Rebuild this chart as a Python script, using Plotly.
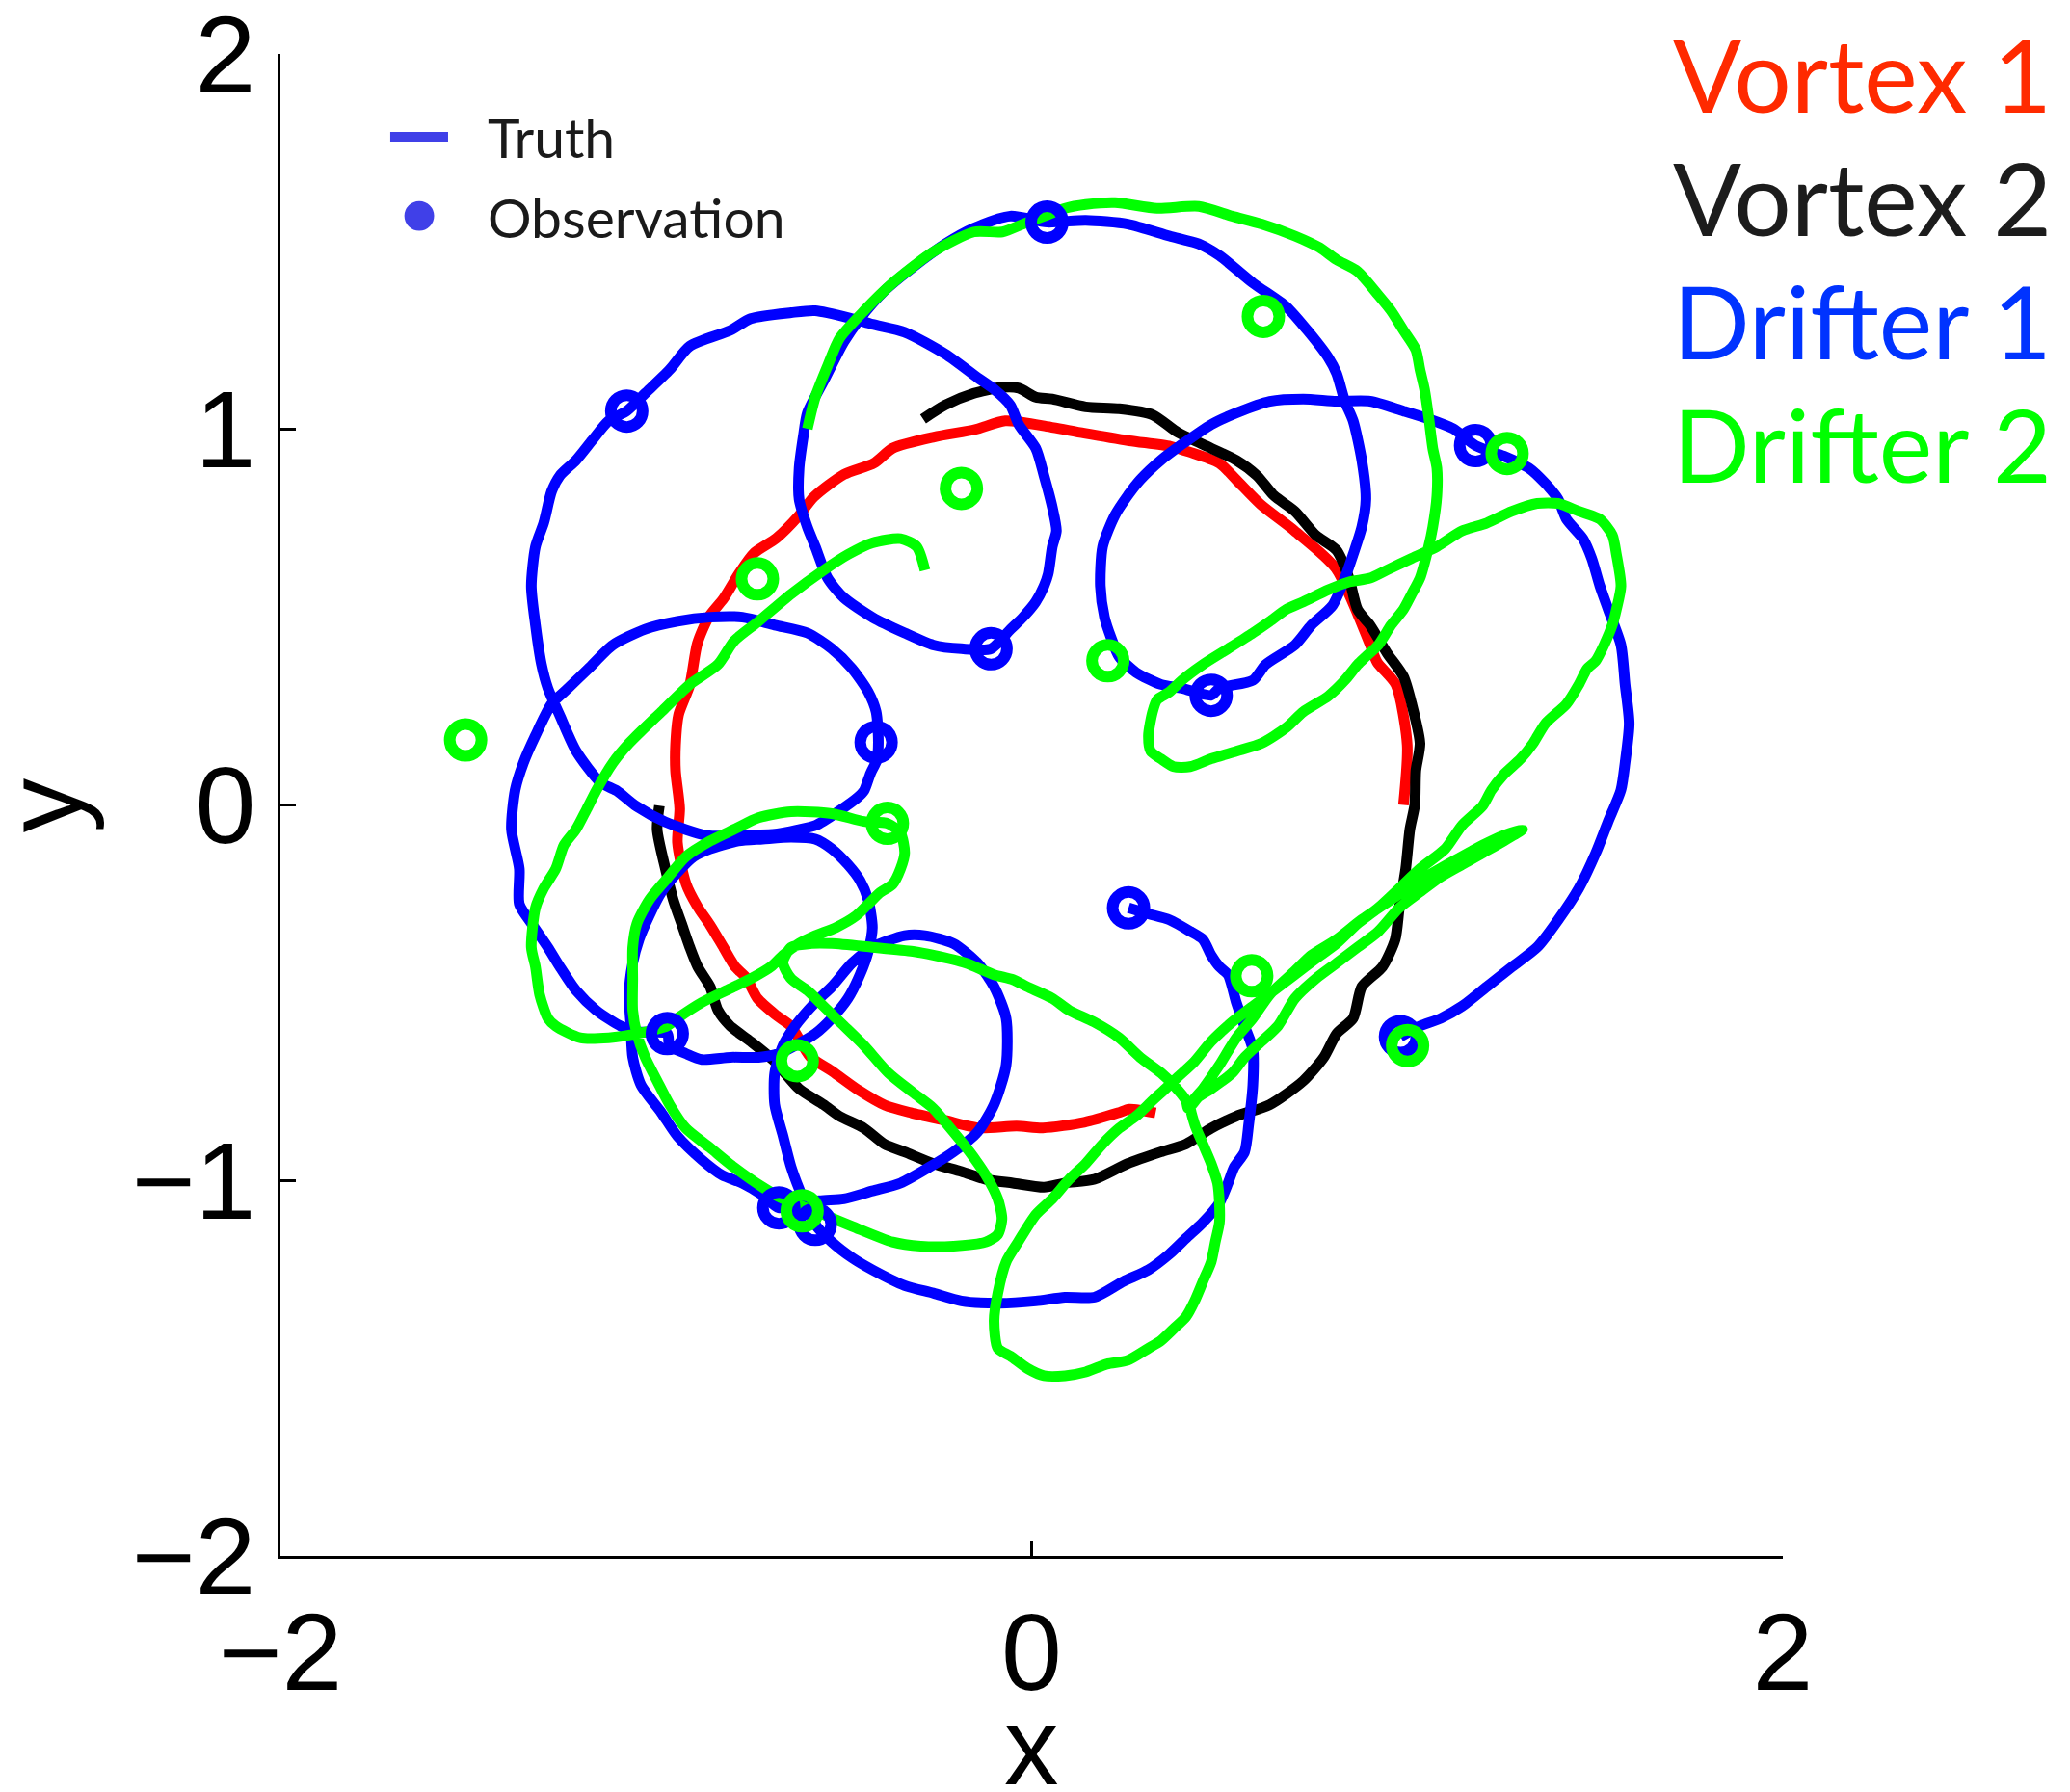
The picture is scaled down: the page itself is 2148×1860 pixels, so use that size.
import plotly.graph_objects as go

# ---- axis ticks ----
x_ticks = [-2, 0, 2]
x_ticklabels = ["\u22122", "0", "2"]
y_ticks = [-2, -1, 0, 1, 2]
y_ticklabels = ["\u22122", "\u22121", "0", "1", "2"]

# ---- Vortex 1 (truth) ----
vortex1_x = [0.99, 1.00, 0.97, 0.92, 0.90, 0.81, 0.70, 0.61, 0.545, 0.50, 0.42, 0.37, 0.26, 0.14, 0.03,
             -0.07, -0.15, -0.26, -0.37, -0.42, -0.50, -0.58, -0.62, -0.68, -0.74, -0.78, -0.82, -0.86,
             -0.89, -0.91, -0.94, -0.948, -0.948, -0.937, -0.943, -0.92, -0.89, -0.856, -0.82, -0.79,
             -0.76, -0.73, -0.68, -0.64, -0.59, -0.53, -0.46, -0.39, -0.32, -0.23, -0.14, -0.04, 0.03,
             0.14, 0.23, 0.26, 0.33]
vortex1_y = [0.00, 0.16, 0.32, 0.38, 0.43, 0.63, 0.73, 0.80, 0.866, 0.91, 0.94, 0.955, 0.97, 0.99, 1.01,
             1.023, 1.00, 0.98, 0.95, 0.91, 0.88, 0.82, 0.77, 0.71, 0.67, 0.615, 0.55, 0.50,
             0.43, 0.32, 0.24, 0.16, 0.09, -0.01, -0.10, -0.21, -0.27, -0.32, -0.38, -0.43,
             -0.46, -0.515, -0.56, -0.59, -0.67, -0.71, -0.76, -0.80, -0.82, -0.84, -0.86, -0.855, -0.86,
             -0.845, -0.82, -0.81, -0.82]

# ---- Vortex 2 (truth) ----
vortex2_x = [-0.289, -0.230, -0.154, -0.079, -0.034, 0.011, 0.055, 0.144, 0.233, 0.322, 0.389, 0.456,
             0.545, 0.600, 0.645, 0.701, 0.756, 0.812, 0.845, 0.868, 0.901, 0.946, 0.990, 1.012, 1.034,
             1.023, 1.020, 1.007, 0.996, 0.979, 0.968, 0.934, 0.879, 0.856, 0.812, 0.778, 0.723, 0.634,
             0.545, 0.478, 0.411, 0.344, 0.256, 0.167, 0.089, 0.033, -0.050, -0.122, -0.187, -0.262,
             -0.338, -0.392, -0.446, -0.511, -0.554, -0.619, -0.684, -0.748, -0.802, -0.835, -0.856,
             -0.889, -0.910, -0.932, -0.954, -0.975, -0.997, -0.991]
vortex2_y = [1.028, 1.065, 1.096, 1.112, 1.110, 1.086, 1.081, 1.060, 1.055, 1.039, 0.992, 0.960,
             0.918, 0.877, 0.824, 0.782, 0.719, 0.678, 0.604, 0.520, 0.479, 0.405, 0.342, 0.269, 0.164,
             0.091, 0.000, -0.065, -0.170, -0.274, -0.358, -0.431, -0.484, -0.568, -0.609, -0.672, -0.735,
             -0.798, -0.829, -0.861, -0.903, -0.924, -0.955, -0.997, -1.007, -1.018, -1.007, -0.997, -0.976,
             -0.955, -0.924, -0.903, -0.861, -0.829, -0.798, -0.756, -0.683, -0.630, -0.589, -0.547, -0.484,
             -0.431, -0.379, -0.316, -0.253, -0.170, -0.065, -0.002]

# ---- Drifter 1 (truth) ----
drifter1_x = [0.258, 0.311, 0.367, 0.423, 0.456, 0.478, 0.500, 0.523, 0.545, 0.567, 0.589, 0.589, 0.578,
              0.567, 0.539, 0.523, 0.500, 0.456, 0.411, 0.367, 0.311, 0.244, 0.167, 0.089, 0.011, -0.085,
              -0.187, -0.262, -0.338, -0.424, -0.478, -0.532, -0.576,
              -0.608, -0.640, -0.662, -0.684, -0.684, -0.662, -0.630, -0.576, -0.532, -0.478, -0.424,
              -0.338, -0.284, -0.208, -0.144, -0.100, -0.068, -0.068, -0.100, -0.144, -0.208, -0.273,
              -0.349, -0.424, -0.500, -0.565, -0.673,
              -0.716, -0.770, -0.824, -0.878, -0.943, -0.986, -1.040, -1.062, -1.067, -1.072, -1.062,
              -1.045, -1.018, -0.986, -0.943, -0.900, -0.856, -0.781, -0.716, -0.640, -0.576, -0.532,
              -0.489, -0.457, -0.435, -0.424, -0.435, -0.457, -0.489, -0.532, -0.576, -0.630, -0.673,
              -0.727, -0.802, -0.878, -0.921, -0.964, -0.970,
              -1.051, -1.094, -1.159, -1.213, -1.256, -1.288, -1.331, -1.364, -1.364, -1.385, -1.375,
              -1.353, -1.321, -1.278, -1.234, -1.180, -1.115, -1.029, -0.943, -0.856, -0.770, -0.684,
              -0.597, -0.532, -0.478, -0.435, -0.414, -0.408,
              -0.412, -0.429, -0.446, -0.463, -0.514, -0.574, -0.626, -0.677, -0.762, -0.865, -0.976,
              -1.053, -1.105,
              -1.148, -1.213, -1.256, -1.288, -1.305, -1.321, -1.332, -1.321, -1.299, -1.278, -1.256,
              -1.213, -1.170, -1.126, -1.078, -1.029, -0.964, -0.910, -0.802, -0.748, -0.640, -0.576,
              -0.478, -0.424, -0.338, -0.230, -0.144, -0.100, -0.057, -0.034, 0.011, 0.033, 0.055, 0.066,
              0.055, 0.044, 0.033, 0.011, -0.023, -0.056, -0.108,
              -0.187, -0.262, -0.338, -0.424, -0.500, -0.543, -0.576, -0.597, -0.619, -0.619, -0.608,
              -0.597, -0.554, -0.500, -0.457, -0.392, -0.316, -0.230, -0.154, -0.057, 0.041,
              0.144, 0.256, 0.367, 0.445, 0.500, 0.589, 0.678, 0.734, 0.790, 0.812, 0.834, 0.856, 0.879,
              0.890, 0.879, 0.856, 0.834, 0.801, 0.745, 0.701, 0.623, 0.589, 0.500, 0.478, 0.400, 0.344,
              0.278, 0.233, 0.211, 0.194, 0.183, 0.189, 0.222, 0.256, 0.289, 0.344, 0.400, 0.478, 0.545,
              0.634, 0.723, 0.812, 0.901, 0.990, 1.057, 1.123, 1.182, 1.257, 1.324, 1.368, 1.402, 1.424,
              1.468, 1.491, 1.513, 1.535, 1.569, 1.580, 1.591, 1.580, 1.569, 1.535, 1.502, 1.457, 1.402,
              1.346, 1.279, 1.212, 1.146, 1.090, 1.034, 0.982]
drifter1_y = [-0.274, -0.290, -0.306, -0.337, -0.358, -0.400, -0.431, -0.452, -0.526, -0.589, -0.651, -0.746,
              -0.850, -0.924, -0.965, -1.007, -1.060, -1.112, -1.154, -1.196, -1.238, -1.269, -1.311, -1.311,
              -1.321, -1.327, -1.321, -1.300, -1.280, -1.238, -1.206, -1.164, -1.117,
              -1.049, -0.965, -0.881, -0.798, -0.714, -0.641, -0.589, -0.526, -0.484, -0.421, -0.379,
              -0.348, -0.348, -0.369, -0.421, -0.484, -0.568, -0.693, -0.798, -0.871, -0.924, -0.965,
              -1.007, -1.028, -1.049, -1.054, -1.073,
              -1.039, -1.007, -0.986, -0.945, -0.882, -0.819, -0.746, -0.672, -0.588, -0.505, -0.421,
              -0.358, -0.295, -0.233, -0.180, -0.138, -0.117, -0.096, -0.091, -0.086, -0.091, -0.117,
              -0.159, -0.201, -0.253, -0.327, -0.390, -0.452, -0.515, -0.568, -0.609, -0.641, -0.662,
              -0.672, -0.672, -0.678, -0.662, -0.641, -0.609,
              -0.604, -0.589, -0.547, -0.494, -0.431, -0.379, -0.316, -0.264, -0.170, -0.065, 0.040,
              0.112, 0.185, 0.269, 0.311, 0.363, 0.426, 0.468, 0.489, 0.500, 0.500, 0.479,
              0.458, 0.416, 0.363, 0.301, 0.248, 0.167,
              0.120, 0.084, 0.038, 0.020, -0.017, -0.054, -0.067, -0.077, -0.081, -0.081, -0.045,
              -0.003, 0.038,
              0.060, 0.144, 0.238, 0.311, 0.374, 0.479, 0.583, 0.688, 0.751, 0.835, 0.877,
              0.918, 0.971, 1.023, 1.049, 1.096, 1.159, 1.222, 1.264, 1.295, 1.311, 1.316,
              1.295, 1.280, 1.259, 1.201, 1.138, 1.107, 1.065, 1.013, 0.950, 0.877, 0.793, 0.730,
              0.688, 0.615, 0.583, 0.541, 0.500, 0.468, 0.416,
              0.416, 0.426, 0.458, 0.500, 0.552, 0.604, 0.688, 0.740, 0.814, 0.897, 0.981,
              1.044, 1.128, 1.233, 1.295, 1.369, 1.432, 1.494, 1.536, 1.568, 1.552,
              1.557, 1.547, 1.515, 1.494, 1.463, 1.390, 1.327, 1.264, 1.191, 1.149, 1.075, 1.023, 0.918,
              0.814, 0.740, 0.667, 0.604, 0.531, 0.479, 0.426, 0.374, 0.332, 0.311, 0.292, 0.311, 0.321,
              0.353, 0.395, 0.447, 0.500, 0.583, 0.688, 0.772, 0.824, 0.866, 0.918, 0.960, 1.013, 1.044,
              1.075, 1.081, 1.075, 1.075, 1.049, 1.028, 1.002, 0.957, 0.929, 0.897, 0.856, 0.814, 0.761,
              0.709, 0.657, 0.583, 0.521, 0.426, 0.321, 0.217, 0.112, 0.040, -0.044, -0.128, -0.222, -0.306,
              -0.379, -0.431, -0.484, -0.536, -0.568, -0.589, -0.617]

# ---- Drifter 2 (truth) ----
drifter2_x = [-0.284, -0.306, -0.349, -0.424, -0.489, -0.554, -0.640, -0.727, -0.792, -0.835, -0.910,
              -0.986, -1.072, -1.115, -1.159, -1.185, -1.213, -1.245, -1.267, -1.299, -1.321, -1.332,
              -1.321, -1.310, -1.288, -1.267, -1.202, -1.126, -1.051, -0.970, -0.943, -0.878, -0.813,
              -0.748, -0.694, -0.662,
              -0.619, -0.576, -0.522, -0.467, -0.435, -0.403, -0.370, -0.349, -0.338, -0.349, -0.384,
              -0.446, -0.532, -0.640, -0.727, -0.792, -0.856, -0.921, -0.975, -1.018, -1.051, -1.062,
              -1.062, -1.062, -1.051, -1.029, -0.997, -0.964, -0.921, -0.856, -0.792, -0.716, -0.662,
              -0.608, -0.554, -0.478, -0.370, -0.295, -0.208, -0.122, -0.090, -0.079, -0.090, -0.122,
              -0.165, -0.208, -0.262, -0.316, -0.381, -0.446, -0.500, -0.554, -0.597, -0.640, -0.662,
              -0.640, -0.586, -0.532, -0.424, -0.316, -0.262, -0.176, -0.100, -0.050, -0.012, 0.055,
              0.100, 0.166, 0.233, 0.289, 0.345, 0.378, 0.411, 0.417,
              0.445, 0.478, 0.534, 0.567, 0.612, 0.656, 0.701, 0.756, 0.812, 0.868, 0.923, 0.979, 1.034,
              1.090, 1.146, 1.201, 1.257, 1.307,
              1.257, 1.201, 1.124, 1.034, 0.956, 0.878, 0.812, 0.745, 0.701, 0.634, 0.589, 0.545, 0.500,
              0.456, 0.423,
              0.434, 0.456, 0.478, 0.495, 0.500, 0.500, 0.489, 0.478, 0.456, 0.434, 0.411, 0.378, 0.345,
              0.311, 0.256, 0.200, 0.144, 0.089, 0.033, -0.012, -0.056, -0.090, -0.100, -0.090, -0.068,
              -0.036, 0.011, 0.055, 0.100, 0.144, 0.189, 0.233, 0.278, 0.322, 0.356, 0.389, 0.434, 0.478,
              0.534, 0.589, 0.645, 0.701, 0.756, 0.812, 0.868, 0.923, 0.979, 1.034, 1.101, 1.146, 1.201,
              1.224, 1.257, 1.302, 1.335, 1.368, 1.424, 1.457, 1.479, 1.502, 1.524, 1.546, 1.557, 1.569,
              1.557, 1.546, 1.513, 1.457, 1.402, 1.346, 1.279, 1.212, 1.146, 1.079, 1.012, 0.945, 0.901,
              0.845, 0.790, 0.723, 0.678, 0.634, 0.589, 0.523, 0.456, 0.400, 0.367, 0.334, 0.322, 0.311,
              0.317, 0.344, 0.378, 0.422, 0.478, 0.545, 0.612, 0.678, 0.723, 0.790, 0.834, 0.868, 0.890,
              0.923, 0.957, 0.990, 1.012, 1.034, 1.057, 1.068, 1.079, 1.079, 1.068, 1.057, 1.046, 1.034,
              1.023, 0.990, 0.957, 0.923, 0.868, 0.812, 0.767, 0.701, 0.612, 0.534, 0.445, 0.334, 0.222,
              0.144, 0.089, 0.033, -0.023, -0.078, -0.154, -0.262, -0.370, -0.446, -0.511, -0.543, -0.576,
              -0.597]
drifter2_y = [0.625, 0.688, 0.709, 0.698, 0.667, 0.625, 0.562, 0.489, 0.437, 0.374, 0.321,
              0.248, 0.164, 0.112, 0.039, -0.012, -0.065, -0.107, -0.170, -0.222, -0.274, -0.379,
              -0.431, -0.505, -0.568, -0.589, -0.620, -0.620, -0.609, -0.588, -0.568, -0.526, -0.494,
              -0.463, -0.431, -0.400,
              -0.369, -0.348, -0.327, -0.295, -0.264, -0.233, -0.211, -0.170, -0.128, -0.075, -0.049,
              -0.044, -0.023, -0.018, -0.034, -0.065, -0.096, -0.138, -0.201, -0.253, -0.316, -0.379,
              -0.463, -0.547, -0.609, -0.672, -0.735, -0.798, -0.861, -0.913, -0.965, -1.018, -1.049,
              -1.070, -1.091, -1.122, -1.164, -1.175, -1.175, -1.164, -1.144, -1.102, -1.049, -0.986,
              -0.924, -0.871, -0.808, -0.766, -0.714, -0.641, -0.588, -0.536, -0.494, -0.463, -0.420,
              -0.379, -0.369, -0.369, -0.379, -0.390, -0.400, -0.421, -0.452, -0.465, -0.484, -0.515,
              -0.547, -0.578, -0.620, -0.672, -0.714, -0.746, -0.787, -0.808,
              -0.777, -0.756, -0.714, -0.672, -0.630, -0.588, -0.515, -0.463, -0.421, -0.379, -0.337,
              -0.274, -0.232, -0.191, -0.159, -0.128, -0.096, -0.065,
              -0.081, -0.107, -0.149, -0.201, -0.253, -0.306, -0.358, -0.400, -0.442, -0.505, -0.568,
              -0.620, -0.693, -0.756, -0.798,
              -0.850, -0.903, -0.955, -1.007, -1.060, -1.112, -1.164, -1.217, -1.269, -1.321, -1.363,
              -1.395, -1.426, -1.447, -1.479, -1.489, -1.510, -1.520, -1.520, -1.500, -1.468, -1.447,
              -1.374, -1.300, -1.217, -1.164, -1.091, -1.049, -0.997, -0.955, -0.903, -0.861, -0.829,
              -0.787, -0.756, -0.725, -0.683, -0.630, -0.578, -0.536, -0.494, -0.452, -0.410, -0.369,
              -0.316, -0.274, -0.222, -0.170, -0.117, -0.054, -0.002,
              0.039, 0.081, 0.123, 0.164, 0.217, 0.269, 0.321, 0.363, 0.384, 0.426, 0.479, 0.521, 0.583,
              0.667, 0.719, 0.761, 0.782, 0.803, 0.803, 0.782, 0.751, 0.730, 0.688, 0.657, 0.625, 0.604,
              0.594, 0.573, 0.541, 0.521, 0.489, 0.458, 0.416, 0.374, 0.332, 0.301, 0.280, 0.248, 0.185,
              0.143, 0.123, 0.102, 0.102, 0.123, 0.143, 0.164, 0.206, 0.248, 0.290, 0.332, 0.374, 0.395,
              0.426, 0.479, 0.521, 0.562, 0.604, 0.688, 0.740, 0.824, 0.897, 0.950, 1.034, 1.107, 1.159,
              1.212, 1.264, 1.316, 1.358, 1.421, 1.452, 1.484, 1.515, 1.547, 1.568, 1.594, 1.589, 1.604,
              1.599, 1.589, 1.568, 1.547, 1.526, 1.526, 1.473, 1.390, 1.316, 1.243, 1.170, 1.086,
              1.002]

# ---- observations ----
obs1_x = [-1.078, 0.041, -0.108, -0.414, 0.478, 1.182, 0.258, 0.982, -0.970, -0.673, -0.576]
obs1_y = [1.049, 1.552, 0.416, 0.167, 0.292, 0.957, -0.274, -0.617, -0.609, -1.073, -1.117]
obs2_x = [-1.507, -0.730, -0.187, 0.617, 1.266, 0.203, -0.384, 0.586, 1.001, -0.624, -0.611]
obs2_y = [0.173, 0.602, 0.843, 1.301, 0.936, 0.384, -0.049, -0.455, -0.641, -0.681, -1.081]

series_names = ["Vortex 1", "Vortex 2", "Drifter 1", "Drifter 2"]
series_colors = ["#ff0000", "#000000", "#0000ff", "#00ff00"]
label_colors = ["#ff2a00", "#1c1c1c", "#0033ff", "#00ff00"]

LINE_W = 11
fig = go.Figure()

tracks = [(vortex1_x, vortex1_y), (vortex2_x, vortex2_y), (drifter1_x, drifter1_y), (drifter2_x, drifter2_y)]
for (tx, ty), name, col in zip(tracks, series_names, series_colors):
    fig.add_trace(go.Scatter(
        x=tx, y=ty, mode="lines", name=name,
        line=dict(color=col, width=LINE_W, shape="spline", smoothing=0.7),
        hoverinfo="skip", showlegend=False))

for ox, oy, col, name in [(obs1_x, obs1_y, "#0000ff", "Drifter 1 obs"),
                          (obs2_x, obs2_y, "#00ff00", "Drifter 2 obs")]:
    fig.add_trace(go.Scatter(
        x=ox, y=oy, mode="markers", name=name,
        marker=dict(symbol="circle-open", size=33, color=col, line=dict(width=12, color=col)),
        hoverinfo="skip", showlegend=False))

tick_font = dict(family="Liberation Sans, Arial, Helvetica, sans-serif", size=113, color="black")
axis_common = dict(range=[-2, 2], showgrid=False, zeroline=False, showline=True, linecolor="black",
                   linewidth=3, ticks="inside", ticklen=16, tickwidth=3, tickcolor="black",
                   tickfont=tick_font, ticklabeloverflow="allow", automargin=False, fixedrange=True)

fig.update_layout(
    width=2148, height=1860,
    margin=dict(l=291, r=298, t=56, b=245, pad=0, autoexpand=False),
    paper_bgcolor="white", plot_bgcolor="white",
    showlegend=False,
    xaxis=dict(tickvals=x_ticks, ticktext=x_ticklabels, **axis_common),
    yaxis=dict(tickvals=y_ticks, ticktext=y_ticklabels, **axis_common),
)

# axis titles
fig.add_annotation(text="x", xref="paper", yref="paper", x=0.5, y=-0.127, showarrow=False,
                   xanchor="center", yanchor="middle", font=tick_font)
fig.add_annotation(text="y", xref="paper", yref="paper", x=-0.158, y=0.5, showarrow=False,
                   textangle=-90, xanchor="center", yanchor="middle", font=tick_font)

# series labels on the right
label_y = [0.9872, 0.9048, 0.8230, 0.7409]
for name, col, ly in zip(series_names, label_colors, label_y):
    fig.add_annotation(text=name, xref="paper", yref="paper", x=0.9262, y=ly, showarrow=False,
                       xanchor="left", yanchor="middle", borderpad=0,
                       font=dict(family="Lato, sans-serif", size=105, color=col))

# key for truth / observation
key_color = "#4040e8"
fig.add_shape(type="line", xref="paper", yref="paper", x0=0.0731, x1=0.1116, y0=0.9448, y1=0.9448,
              line=dict(color=key_color, width=10))
fig.add_shape(type="circle", xref="paper", yref="paper", x0=0.0825, x1=0.1023, y0=0.8823, y1=0.9021,
              fillcolor=key_color, line=dict(width=0))
key_font = dict(family="Lato, sans-serif", size=57, color="#1a1a1a")
fig.add_annotation(text="Truth", xref="paper", yref="paper", x=0.1373, y=0.9448, showarrow=False,
                   xanchor="left", yanchor="middle", borderpad=0, font=key_font)
fig.add_annotation(text="Observation", xref="paper", yref="paper", x=0.1373, y=0.8916, showarrow=False,
                   xanchor="left", yanchor="middle", borderpad=0, font=key_font)

fig.write_html("out.html")
